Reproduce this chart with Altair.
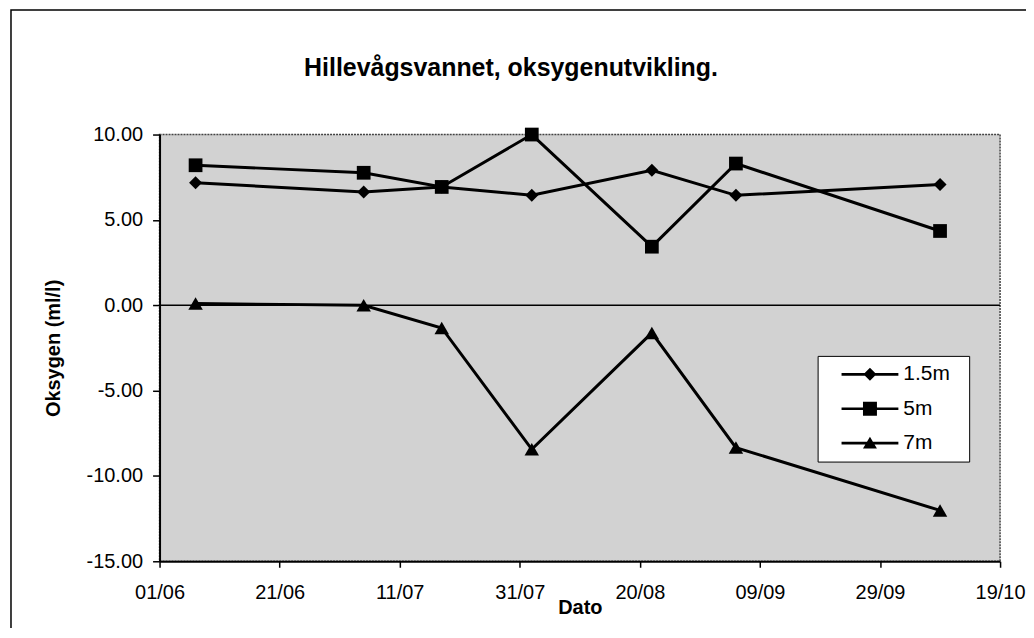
import altair as alt
import pandas as pd

FONT = "Liberation Sans"

# ---- data ----
series_names = ["1.5m", "5m", "7m"]
sample_dates = ["1995-06-07", "1995-07-05", "1995-07-18", "1995-08-02",
                "1995-08-22", "1995-09-05", "1995-10-09"]
oxygen_1_5m = [7.17, 6.64, 6.93, 6.44, 7.91, 6.44, 7.08]
oxygen_5m = [8.20, 7.76, 6.93, 10.00, 3.43, 8.30, 4.35]
oxygen_7m = [0.10, 0.00, -1.33, -8.44, -1.62, -8.34, -12.02]

x_tick_dates = [(6, 1), (6, 21), (7, 11), (7, 31), (8, 20), (9, 9), (9, 29), (10, 19)]
y_ticks = [10, 5, 0, -5, -10, -15]

rows = []
for name, vals in zip(series_names, [oxygen_1_5m, oxygen_5m, oxygen_7m]):
    for d, v in zip(sample_dates, vals):
        rows.append({"Dato": d, "Oksygen": v, "series": name})
df = pd.DataFrame(rows)

W, H = 843, 428

x_vals = [alt.DateTime(year=1995, month=m, date=d, utc=True) for m, d in x_tick_dates]
x_scale = alt.Scale(type="utc",
                    domain=[alt.DateTime(year=1995, month=6, date=1, utc=True),
                            alt.DateTime(year=1995, month=10, date=19, utc=True)])
y_scale = alt.Scale(domain=[-15, 10], nice=False, zero=False)

x_enc = alt.X("Dato:T", scale=x_scale,
              axis=alt.Axis(values=x_vals, format="%d/%m", title="Dato",
                            labelFontSize=20, titleFontSize=20, titleFontWeight="bold",
                            labelFont=FONT, titleFont=FONT, labelColor="black", titleColor="black",
                            tickSize=6, tickColor="black", tickWidth=1.5,
                            domainColor="black", domainWidth=2, grid=False,
                            labelPadding=15, titlePadding=-5, labelFlush=False,
                            labelOverlap=False))
y_enc = alt.Y("Oksygen:Q", scale=y_scale,
              axis=alt.Axis(values=y_ticks, title="Oksygen (ml/l)",
                            labelExpr="replace(format(datum.value, '.2f'), '\u2212', '-')",
                            labelFontSize=20, titleFontSize=20, titleFontWeight="bold",
                            labelFont=FONT, titleFont=FONT, labelColor="black", titleColor="black",
                            tickSize=7, tickColor="black", tickWidth=1.5,
                            domainColor="black", domainWidth=2, grid=False,
                            labelPadding=10, titlePadding=23))

base = alt.Chart(df)

zero_rule = alt.Chart(pd.DataFrame({"z": [0]})).mark_rule(color="black", strokeWidth=1.5).encode(
    y=alt.Y("z:Q", scale=y_scale)
)

lines = base.mark_line(color="black", strokeWidth=3).encode(
    x=x_enc, y=y_enc, detail="series:N", order="Dato:T"
)

points = base.mark_point(filled=True, color="black", opacity=1).encode(
    x=x_enc, y=y_enc,
    shape=alt.Shape("series:N",
                    scale=alt.Scale(domain=series_names, range=["diamond", "square", "triangle-up"]),
                    legend=None),
    size=alt.Size("series:N",
                  scale=alt.Scale(domain=series_names, range=[170, 210, 230]),
                  legend=None),
)

# legend glyphs: a short line with the marker in its middle (all filled shapes);
# the trailing degenerate segment only widens the legend box
legend_paths = [
    "M0.55,-0.13H6.25V0.13H0.55ZM2.75,0L3.4,-0.65L4.05,0L3.4,0.65ZM12.5,0L12.5,0",
    "M0.55,-0.13H6.25V0.13H0.55ZM2.7,-0.7H4.1V0.7H2.7ZM12.5,0L12.5,0",
    "M0.55,-0.13H6.25V0.13H0.55ZM2.7,0.55L3.4,-0.65L4.1,0.55ZM12.5,0L12.5,0",
]

legend_layer = base.mark_point(filled=True, color="black", opacity=0).encode(
    x=x_enc, y=y_enc,
    shape=alt.Shape("series:N",
                    scale=alt.Scale(domain=series_names, range=legend_paths),
                    legend=alt.Legend(orient="none", legendX=660, legendY=222, title=None,
                                      padding=8, rowPadding=12.5, symbolSize=400,
                                      symbolStrokeWidth=0, symbolFillColor="black",
                                      symbolStrokeColor="black", symbolOpacity=1,
                                      labelFont=FONT, labelFontSize=21, labelColor="black",
                                      labelOffset=57,
                                      fillColor="white", strokeColor="black")),
)

frame = alt.Chart(pd.DataFrame({"f": [0]})).mark_rect(
    fillOpacity=0, stroke="black", strokeWidth=1.5
).encode(
    x=alt.value(-149), x2=alt.value(W + 40), y=alt.value(-125), y2=alt.value(H + 90)
)

chart = alt.layer(frame, zero_rule, lines, points, legend_layer).resolve_scale(
    shape="independent", size="independent"
).properties(
    width=W, height=H,
    title=alt.TitleParams("Hillevågsvannet, oksygenutvikling.", fontSize=25, font=FONT,
                          fontWeight="bold", color="black", anchor="middle", dx=-69,
                          baseline="bottom", offset=-97),
    autosize=alt.AutoSizeParams(type="none"),
    padding={"left": 152, "top": 126, "right": 26, "bottom": 66},
).configure(
    background="white"
).configure_view(
    fill="#d2d2d2", stroke="#444444", strokeWidth=1.5, strokeDash=[2, 1]
)

chart.save("out.html", embed_options={"renderer": "svg", "actions": False})
